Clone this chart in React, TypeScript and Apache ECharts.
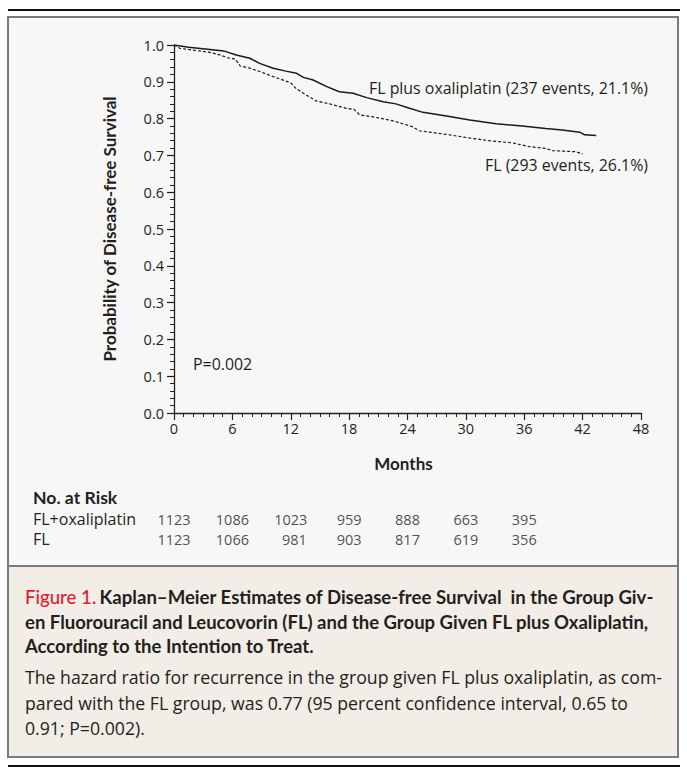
import React, { useEffect, useRef } from "react";
import * as echarts from "echarts";

// Kaplan–Meier curves (months, survival probability)
const oxaMonths = [0, 1.5, 3.7, 5.1, 6.4, 7.8, 8.8, 10.2, 11.5, 12.6, 13.3, 14.3, 15.7, 17.0, 18.4, 19.8, 21.5, 22.8, 24.2, 25.6, 28.0, 30.4, 33.1, 35.8, 38.2, 39.9, 41.3, 41.8, 42.2, 43.4];
const oxaSurv = [1.0, 0.994, 0.988, 0.984, 0.973, 0.964, 0.95, 0.937, 0.929, 0.923, 0.912, 0.905, 0.887, 0.873, 0.869, 0.857, 0.846, 0.84, 0.828, 0.817, 0.807, 0.796, 0.786, 0.78, 0.773, 0.769, 0.764, 0.762, 0.756, 0.754];
const flMonths = [0, 0.6, 2.0, 3.7, 4.7, 5.7, 6.3, 6.8, 7.8, 8.8, 10.2, 11.5, 12.05, 12.5, 13.3, 14.6, 16.0, 17.7, 18.5, 19.1, 20.8, 22.5, 24.5, 25.2, 28.0, 30.7, 32.4, 34.8, 36.5, 38.2, 38.9, 41.3, 42.0];
const flSurv = [1.0, 0.991, 0.986, 0.98, 0.973, 0.964, 0.962, 0.943, 0.937, 0.928, 0.914, 0.902, 0.896, 0.883, 0.869, 0.848, 0.84, 0.828, 0.825, 0.81, 0.803, 0.794, 0.778, 0.767, 0.757, 0.746, 0.74, 0.734, 0.724, 0.719, 0.713, 0.71, 0.704];

// Number at risk
const riskMonths = [0, 6, 12, 18, 24, 30, 36];
const riskGroups = ["FL+oxaliplatin", "FL"];
const riskOxa = [1123, 1086, 1023, 959, 888, 663, 395];
const riskFl = [1123, 1066, 981, 903, 817, 619, 356];

const curveLabels = ["FL plus oxaliplatin (237 events, 21.1%)", "FL (293 events, 26.1%)"];
const pText = "P=0.002";
const captionLines = [
  "Kaplan–Meier Estimates of Disease-free Survival  in the Group Giv-",
  "en Fluorouracil and Leucovorin (FL) and the Group Given FL plus Oxaliplatin,",
  "According to the Intention to Treat.",
];
const bodyLines = [
  "The hazard ratio for recurrence in the group given FL plus oxaliplatin, as com-",
  "pared with the FL group, was 0.77 (95 percent confidence interval, 0.65 to",
  "0.91; P=0.002).",
];

const REG = "'Open Sans', 'Noto Sans', sans-serif";
const BOLD = "Lato, 'Noto Sans', sans-serif";
const INK = "#231f20";

export default function App() {
  const ref = useRef<HTMLDivElement>(null);
  useEffect(() => {
    if (!ref.current) return;
    const chart = echarts.init(ref.current, null, { renderer: "svg" });
    const riskData: any[] = [];
    riskMonths.forEach((m, i) => {
      riskData.push({ value: [m, 0, riskOxa[i]] });
      const item: any = { value: [m, 1, riskFl[i]] };
      if (m === 12) item.label = { align: "right", offset: [16, 0] };
      riskData.push(item);
    });
    const option: any = {
      animation: false,
      backgroundColor: "#ffffff",
      textStyle: { fontFamily: REG },
      grid: [
        { left: 174, right: 46, top: 45, height: 368 },
        { left: 174, right: 46, top: 509, height: 40 },
      ],
      xAxis: [
        {
          gridIndex: 0,
          type: "value",
          min: 0,
          max: 48,
          interval: 6,
          name: "Months",
          nameLocation: "middle",
          nameGap: 42,
          nameTextStyle: { fontFamily: BOLD, fontSize: 17, fontWeight: "bold", color: INK, padding: [0, 8, 0, 0] },
          axisLine: { show: true, lineStyle: { color: INK, width: 1.3 } },
          axisTick: { show: true, length: 7, lineStyle: { color: INK, width: 1.2 } },
          minorTick: { show: true, splitNumber: 6, length: 4, lineStyle: { color: INK, width: 1 } },
          splitLine: { show: false },
          axisLabel: { color: INK, fontSize: 14.5, fontFamily: REG, margin: 8 },
        },
        {
          gridIndex: 1,
          type: "value",
          min: 0,
          max: 48,
          show: false,
        },
      ],
      yAxis: [
        {
          gridIndex: 0,
          type: "value",
          min: 0,
          max: 1,
          interval: 0.1,
          name: "Probability of Disease-free Survival",
          nameLocation: "middle",
          nameGap: 56,
          nameRotate: 90,
          nameTextStyle: { fontFamily: BOLD, fontSize: 17, fontWeight: "bold", color: INK },
          axisLine: { show: true, lineStyle: { color: INK, width: 1.3 } },
          axisTick: { show: true, length: 7, lineStyle: { color: INK, width: 1.2 } },
          minorTick: { show: true, splitNumber: 5, length: 4, lineStyle: { color: INK, width: 1 } },
          splitLine: { show: false },
          axisLabel: {
            color: INK,
            fontSize: 14.5,
            fontFamily: REG,
            margin: 10,
            formatter: (v: number) => v.toFixed(1),
          },
        },
        {
          gridIndex: 1,
          type: "category",
          data: riskGroups,
          inverse: true,
          show: false,
        },
      ],
      series: [
        {
          name: "FL plus oxaliplatin",
          type: "line",
          xAxisIndex: 0,
          yAxisIndex: 0,
          data: oxaMonths.map((m, i) => [m, oxaSurv[i]]),
          showSymbol: false,
          lineStyle: { color: "#1a1a1a", width: 1.5 },
        },
        {
          name: "FL",
          type: "line",
          xAxisIndex: 0,
          yAxisIndex: 0,
          data: flMonths.map((m, i) => [m, flSurv[i]]),
          showSymbol: false,
          lineStyle: { color: "#1a1a1a", width: 1.2, type: [3, 2] },
        },
        {
          name: "No. at Risk",
          type: "scatter",
          xAxisIndex: 1,
          yAxisIndex: 1,
          symbolSize: 0,
          data: riskData,
          label: {
            show: true,
            position: "inside",
            formatter: (p: any) => String(p.value[2]),
            color: INK,
            fontSize: 14.5,
            fontFamily: REG,
          },
        },
      ],
      graphic: {
        elements: [
          { type: "line", z: -10, shape: { x1: 8, y1: 10, x2: 680, y2: 10 }, style: { stroke: "#111", lineWidth: 2 } },
          { type: "rect", z: -10, shape: { x: 8, y: 17, width: 670, height: 740 }, style: { fill: "#f7f7f7", stroke: "#7a7a7a", lineWidth: 2 } },
          { type: "rect", z: -9, shape: { x: 9, y: 566, width: 668, height: 190 }, style: { fill: "#f2ede6" } },
          { type: "line", z: -8, shape: { x1: 8, y1: 566, x2: 678, y2: 566 }, style: { stroke: "#7a7a7a", lineWidth: 2 } },
          { type: "line", z: -10, shape: { x1: 8, y1: 766, x2: 680, y2: 766 }, style: { stroke: "#111", lineWidth: 2 } },
          { type: "text", x: 648, y: 88, style: { text: curveLabels[0], textAlign: "right", textVerticalAlign: "middle", fill: INK, fontSize: 15.9, fontFamily: REG } },
          { type: "text", x: 648, y: 165, style: { text: curveLabels[1], textAlign: "right", textVerticalAlign: "middle", fill: INK, fontSize: 15.9, fontFamily: REG } },
          { type: "text", x: 193, y: 364, style: { text: pText, textAlign: "left", textVerticalAlign: "middle", fill: INK, fontSize: 15.9, fontFamily: REG } },
          { type: "text", x: 33, y: 497, style: { text: "No. at Risk", textVerticalAlign: "middle", fill: INK, fontSize: 17.6, fontWeight: "bold", fontFamily: BOLD } },
          { type: "text", x: 33, y: 519, style: { text: riskGroups[0], textVerticalAlign: "middle", fill: INK, fontSize: 16, fontFamily: REG } },
          { type: "text", x: 33, y: 539, style: { text: riskGroups[1], textVerticalAlign: "middle", fill: INK, fontSize: 16, fontFamily: REG } },
          {
            type: "text",
            x: 25,
            y: 597,
            style: {
              text: "{r|Figure 1.} {b|" + captionLines[0] + "}",
              textVerticalAlign: "middle",
              rich: {
                r: { fill: "#e31b2c", color: "#e31b2c", fontSize: 18.6, fontFamily: BOLD, fontWeight: 500 },
                b: { fill: INK, color: INK, fontSize: 18.6, fontFamily: BOLD, fontWeight: "bold" },
              },
            },
          },
          { type: "text", x: 25, y: 622, style: { text: captionLines[1], textVerticalAlign: "middle", fill: INK, fontSize: 18.5, fontWeight: "bold", fontFamily: BOLD } },
          { type: "text", x: 25, y: 646, style: { text: captionLines[2], textVerticalAlign: "middle", fill: INK, fontSize: 18.5, fontWeight: "bold", fontFamily: BOLD } },
          { type: "text", x: 25, y: 677, style: { text: bodyLines[0], textVerticalAlign: "middle", fill: INK, fontSize: 17.7, fontFamily: REG } },
          { type: "text", x: 25, y: 703, style: { text: bodyLines[1], textVerticalAlign: "middle", fill: INK, fontSize: 17.7, fontFamily: REG } },
          { type: "text", x: 25, y: 728, style: { text: bodyLines[2], textVerticalAlign: "middle", fill: INK, fontSize: 17.7, fontFamily: REG } },
        ],
      },
    };
    chart.setOption(option);
    return () => chart.dispose();
  }, []);
  return <div ref={ref} style={{ position: "fixed", left: 0, top: 0, width: 687, height: 770 }} />;
}
